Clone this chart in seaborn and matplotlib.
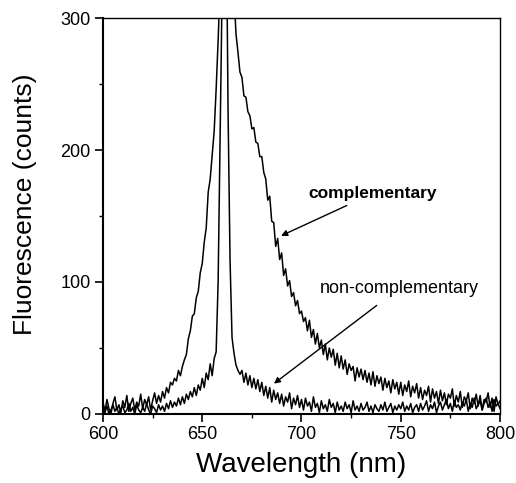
# Fluorescence spectra: complementary vs non-complementary probe

import numpy as np
import pandas as pd
import matplotlib
matplotlib.use("Agg")
import matplotlib.pyplot as plt
import seaborn as sns
from matplotlib.ticker import MultipleLocator

# wavelength grid (nm), one reading per nm
wavelength = np.arange(600, 801)

# counts (complementary target)
complementary = [
    9, 2, 11, 4, 0, 8, 13, 3, 7, 1,
    10, 5, 14, 2, 8, 12, 3, 9, 6, 15,
    4, 11, 7, 13, 3, 10, 16, 8, 14, 9,
    17, 12, 20, 16, 24, 22, 27, 25, 33, 29,
    36, 41, 45, 57, 63, 74, 76, 88, 93, 107,
    114, 130, 141, 168, 178, 196, 214, 246, 283, 325,
    400, 440, 450, 445, 420, 370, 318, 288, 274, 259,
    255, 241, 240, 229, 226, 216, 217, 206, 205, 195,
    195, 183, 178, 162, 165, 146, 145, 127, 133, 117,
    122, 105, 110, 97, 101, 89, 92, 82, 86, 76,
    78, 70, 73, 63, 71, 58, 64, 53, 61, 50,
    56, 45, 53, 41, 50, 43, 49, 37, 46, 35,
    44, 34, 41, 30, 38, 33, 36, 25, 35, 28,
    34, 26, 33, 24, 31, 22, 32, 21, 29, 23,
    28, 18, 27, 20, 25, 16, 26, 19, 24, 15,
    24, 14, 22, 17, 25, 13, 21, 16, 23, 12,
    20, 11, 18, 14, 21, 9, 19, 12, 17, 8,
    18, 10, 16, 7, 15, 12, 19, 6, 14, 9,
    17, 5, 13, 10, 16, 4, 12, 8, 15, 6,
    14, 3, 11, 9, 16, 5, 12, 2, 13, 7,
    10,
]

# counts for the non-complementary target
non_complementary = [
    4, 1, 6, 0, 3, 7, 2, 5, 0, 4,
    6, 1, 3, 8, 2, 5, 0, 7, 3, 1,
    5, 2, 8, 3, 0, 6, 4, 1, 7, 3,
    6, 2, 8, 4, 10, 5, 9, 6, 12, 7,
    13, 8, 15, 11, 17, 13, 20, 14, 22, 18,
    27, 20, 31, 26, 38, 29, 42, 47, 100, 212,
    320, 420, 400, 230, 117, 58, 46, 37, 33, 30,
    33, 24, 31, 22, 29, 20, 27, 19, 26, 17,
    24, 14, 21, 12, 20, 9, 18, 11, 16, 8,
    15, 6, 13, 9, 16, 4, 12, 7, 14, 5,
    11, 3, 12, 6, 9, 2, 13, 5, 8, 1,
    10, 4, 7, 2, 11, 5, 8, 1, 9, 3,
    6, 2, 9, 4, 7, 1, 10, 3, 6, 2,
    8, 3, 5, 9, 2, 6, 1, 7, 4, 2,
    7, 3, 9, 2, 5, 8, 1, 6, 3, 7,
    4, 9, 2, 6, 3, 8, 1, 5, 7, 2,
    8, 3, 6, 10, 2, 7, 4, 9, 1, 6,
    9, 3, 7, 11, 4, 8, 2, 10, 5, 7,
    3, 9, 6, 11, 2, 8, 5, 12, 4, 7,
    10, 3, 8, 12, 5, 9, 2, 11, 6, 8,
    4,
]

x_ticks = [600, 650, 700, 750, 800]
y_ticks = [0, 100, 200, 300]

sns.set_style("ticks")
plt.rcParams["font.family"] = ["Liberation Sans", "DejaVu Sans"]
plt.rcParams["text.color"] = "black"
plt.rcParams["axes.labelcolor"] = "black"
plt.rcParams["axes.edgecolor"] = "black"

df = pd.DataFrame({
    "wl": np.concatenate([wavelength, wavelength]),
    "counts": complementary + non_complementary,
    "sample": ["complementary"] * len(wavelength) + ["non-complementary"] * len(wavelength),
})

fig = plt.figure(figsize=(5.16, 4.83), dpi=100)
ax = fig.add_axes([0.1996, 0.1429, 0.7694, 0.8198])

for name in ["complementary", "non-complementary"]:
    sub = df[df["sample"] == name]
    sns.lineplot(data=sub, x="wl", y="counts", ax=ax, color="black",
                 linewidth=1.1, estimator=None, legend=False)

ax.set_xlim(600, 800)
ax.set_ylim(0, 300)
ax.set_xticks(x_ticks)
ax.set_yticks(y_ticks)
ax.xaxis.set_minor_locator(MultipleLocator(25))
ax.yaxis.set_minor_locator(MultipleLocator(50))
ax.tick_params(which="major", direction="out", length=6, width=1.2, labelsize=13, pad=3, colors="black")
ax.tick_params(which="minor", direction="out", length=3, width=1.0, colors="black")

for side in ["left", "bottom"]:
    ax.spines[side].set_linewidth(1.5)
for side in ["top", "right"]:
    ax.spines[side].set_visible(True)
    ax.spines[side].set_linewidth(1.0)

ax.set_xlabel("Wavelength (nm)", fontsize=20, labelpad=6)
ax.set_ylabel("Fluorescence (counts)", fontsize=19, labelpad=8)
ax.yaxis.set_label_coords(-0.165, 0.53)

# labels with pointer arrows
ax.annotate("complementary", xy=(689.7, 135), xytext=(703.5, 167),
            fontsize=12.5, fontweight="bold", va="center", ha="left",
            arrowprops=dict(arrowstyle="-|>", color="black", lw=1.0,
                            mutation_scale=9, shrinkA=2, shrinkB=0))
ax.annotate("non-complementary", xy=(686.1, 23), xytext=(709, 95),
            fontsize=13, va="center", ha="left",
            arrowprops=dict(arrowstyle="-|>", color="black", lw=1.0,
                            mutation_scale=9, shrinkA=6, shrinkB=0))

fig.savefig("out.png", dpi=100)
